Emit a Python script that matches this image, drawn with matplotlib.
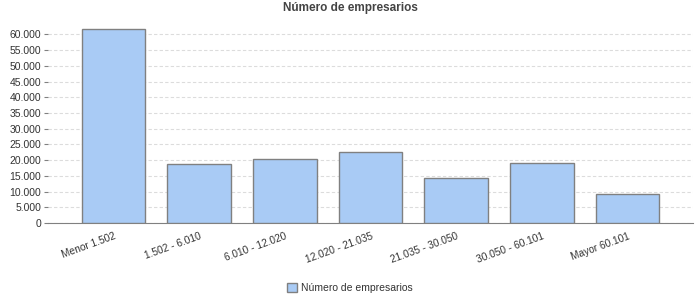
import matplotlib
matplotlib.use("Agg")
import matplotlib.pyplot as plt
from matplotlib.ticker import FuncFormatter
from matplotlib.patches import Patch

plt.rcParams['font.family'] = ['Liberation Sans', 'DejaVu Sans']

# datos
categorias = ["Menor 1.502", "1.502 - 6.010", "6.010 - 12.020", "12.020 - 21.035",
              "21.035 - 30.050", "30.050 - 60.101", "Mayor 60.101"]
empresarios = [61700, 18800, 20200, 22600, 14300, 19100, 9200]
yticks = list(range(0, 60001, 5000))

titulo = "Número de empresarios"
serie = "Número de empresarios"

fig = plt.figure(figsize=(7, 3), dpi=100)
ax = fig.add_axes([0.0686, 0.2567, 0.9214, 0.655])

x = range(len(categorias))
ax.bar(x, empresarios, width=0.74, color="#A9CBF5", edgecolor="#808080", linewidth=1, zorder=3)

ax.set_xlim(-0.764, len(categorias) - 1 + 0.764)
ax.set_ylim(0, 62500)
ax.set_yticks(yticks)
ax.yaxis.set_major_formatter(FuncFormatter(lambda v, p: f"{int(v):,}".replace(",", ".")))
ax.yaxis.grid(True, color="#dcdcdc", linestyle=(0, (3, 2)), linewidth=0.8, zorder=0)

ax.set_xticks(list(x))
ax.set_xticklabels(categorias, rotation=20, ha="right", rotation_mode="anchor", fontsize=7.3, color="#333333")
ax.tick_params(axis="x", length=0, pad=6)
ax.tick_params(axis="y", length=3, color="#808080", labelsize=7.5, labelcolor="#333333", pad=2)

for s in ["top", "right", "left"]:
    ax.spines[s].set_visible(False)
ax.spines["bottom"].set_color("#808080")

fig.text(0.5, 0.972, titulo, ha="center", va="center", fontsize=8.5, fontweight="bold", color="#444444")

fig.legend(handles=[Patch(facecolor="#A9CBF5", edgecolor="#808080", label=serie)],
           loc="center", bbox_to_anchor=(0.5, 0.04), frameon=False, fontsize=7.5,
           handlelength=0.9, handleheight=0.9, handletextpad=0.4, labelcolor="#333333")

fig.savefig("out.png", dpi=100)
